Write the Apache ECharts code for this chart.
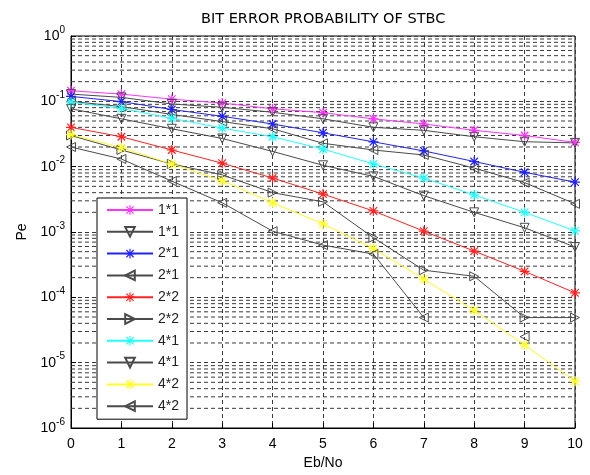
<!DOCTYPE html>
<html>
<head>
<meta charset="utf-8">
<script src="https://cdn.jsdelivr.net/npm/echarts@6/dist/echarts.min.js"></script>
<style>
  html, body { margin: 0; padding: 0; background: #fff; }
  #chart { width: 590px; height: 475px; }
</style>
</head>
<body>
<div id="chart"></div>
<script>
/* ================= DATA ================= */
const ebNo = [0, 1, 2, 3, 4, 5, 6, 7, 8, 9, 10];

// star markers (coloured) and hollow triangles (black), as in the legend
const pe11Star = [0.145, 0.129, 0.108, 0.094, 0.077, 0.067, 0.054, 0.045, 0.036, 0.030, 0.0235];
const pe11Tri  = [0.129, 0.115, 0.091, 0.081, 0.068, 0.054, 0.040, 0.036, 0.0287, 0.0241, 0.0231];
const pe21Star = [0.119, 0.099, 0.075, 0.059, 0.045, 0.033, 0.024, 0.0174, 0.012, 0.0082, 0.0058];
const pe21Tri  = [0.100, 0.083, 0.063, 0.049, 0.038, 0.0228, 0.018, 0.0151, 0.0095, 0.0057, 0.0027];
const pe22Star = [0.040, 0.0287, 0.018, 0.0113, 0.0067, 0.0038, 0.0021, 0.00103, 0.00051, 0.00025, 0.000117];
const pe22Tri  = [0.030, 0.018, 0.011, 0.0075, 0.0040, 0.0029, 0.00082, 0.00026, 0.00021, 0.000049, 0.000049];
const pe41Star = [0.097, 0.078, 0.055, 0.039, 0.0287, 0.0186, 0.011, 0.0067, 0.0037, 0.0020, 0.00104];
const pe41Tri  = [0.077, 0.054, 0.038, 0.027, 0.0171, 0.0105, 0.0071, 0.0036, 0.0020, 0.00116, 0.00059];
const pe42Star = [0.031, 0.0195, 0.011, 0.0061, 0.0028, 0.00133, 0.00056, 0.00019, 0.000063, 0.0000187, 0.0000052];
const pe42Tri  = [0.020, 0.0131, 0.0060, 0.0028, 0.00103, 0.00063, 0.00046, 0.000049, null, 0.000025, null];

const legendNames = ["1*1", "1*1", "2*1", "2*1", "2*2", "2*2", "4*1", "4*1", "4*2", "4*2"];

// log grid: decades plus 2..9 sub-lines
const decades = [-6, -5, -4, -3, -2, -1];
const minorSteps = [2, 3, 4, 5, 6, 7, 8, 9];

/* ================= SYMBOLS ================= */
const STAR = "path://M0,8.8H20V11.2H0Z M8.8,0H11.2V20H8.8Z " +
  "M1.6,3.3L3.3,1.6L18.4,16.7L16.7,18.4Z M16.7,1.6L18.4,3.3L3.3,18.4L1.6,16.7Z";
const TRI_DOWN = "path://M0,0L10,0L5,9Z";
const TRI_LEFT = "path://M9,0L9,10L0,5Z";
const TRI_RIGHT = "path://M0,0L0,10L9,5Z";

const GRID_COLOR = "#3a3a3a";
const FONT = "Liberation Sans, Arial, sans-serif";

const toPoints = (arr) => ebNo.map((x, i) => [x, arr[i] == null ? "-" : arr[i]]);

function starSeries(idx, values, color) {
  return {
    name: legendNames[idx] + "|" + idx,
    type: "line",
    data: toPoints(values),
    symbol: STAR,
    symbolSize: 10,
    showAllSymbol: true,
    connectNulls: false,
    lineStyle: { color, width: 1 },
    itemStyle: { color, borderWidth: 0 },
    emphasis: { disabled: true },
    animation: false,
    z: 3,
  };
}

function triSeries(idx, values, symbol) {
  return {
    name: legendNames[idx] + "|" + idx,
    type: "line",
    data: toPoints(values),
    symbol,
    symbolSize: 9,
    showAllSymbol: true,
    connectNulls: false,
    lineStyle: { color: "#4a4a4a", width: 1 },
    itemStyle: { color: "rgba(0,0,0,0)", borderColor: "#4a4a4a", borderWidth: 1 },
    emphasis: { disabled: true },
    animation: false,
    z: 3,
  };
}

// minor log grid lines, drawn as broken line segments across the x range
const minorGrid = [];
decades.forEach((d) => {
  minorSteps.forEach((m) => {
    const v = m * Math.pow(10, d);
    minorGrid.push([ebNo[0], v], [ebNo[ebNo.length - 1], v], [ebNo[0], "-"]);
  });
});

const series = [
  starSeries(0, pe11Star, "#ff33ff"),
  triSeries(1, pe11Tri, TRI_DOWN),
  starSeries(2, pe21Star, "#2222ff"),
  triSeries(3, pe21Tri, TRI_LEFT),
  starSeries(4, pe22Star, "#ff2222"),
  triSeries(5, pe22Tri, TRI_RIGHT),
  starSeries(6, pe41Star, "#22ffff"),
  triSeries(7, pe41Tri, TRI_DOWN),
  starSeries(8, pe42Star, "#ffff22"),
  triSeries(9, pe42Tri, TRI_LEFT),
  {
    name: "_grid",
    type: "line",
    data: minorGrid,
    silent: true,
    symbol: "none",
    connectNulls: false,
    z: 1,
    animation: false,
    lineStyle: { color: GRID_COLOR, type: [4, 3], width: 1 },
    emphasis: { disabled: true },
  },
];

/* ================= CHART ================= */
const chart = echarts.init(document.getElementById("chart"), null, { renderer: "canvas" });

chart.setOption({
  backgroundColor: "#fff",
  animation: false,
  textStyle: { fontFamily: FONT, color: "#000" },
  title: {
    text: "BIT ERROR PROBABILITY OF STBC",
    left: 196,
    top: 7,
    textStyle: { fontFamily: "DejaVu Sans", fontSize: 14.5, fontWeight: "normal", color: "#000" },
  },
  grid: {
    left: 71,
    right: 15,
    top: 36,
    bottom: 41,
    show: true,
    borderColor: "#000",
    borderWidth: 1,
    backgroundColor: "#fff",
  },
  legend: {
    orient: "vertical",
    left: 97,
    top: 198,
    data: series.slice(0, 10).map((s) => s.name),
    formatter: (name) => name.split("|")[0],
    itemWidth: 46,
    itemHeight: 12,
    itemGap: 7.8,
    padding: [5, 8, 6, 9],
    backgroundColor: "#fff",
    borderColor: "#000",
    borderWidth: 1,
    borderRadius: 0,
    selectedMode: false,
    textStyle: { fontFamily: FONT, fontSize: 14, color: "#222" },
  },
  xAxis: {
    type: "value",
    min: 0,
    max: 10,
    interval: 1,
    name: "Eb/No",
    nameLocation: "middle",
    nameGap: 28,
    nameTextStyle: { fontFamily: FONT, fontSize: 14, color: "#000" },
    axisLine: { lineStyle: { color: "#000" } },
    axisTick: { inside: true, length: 5, lineStyle: { color: "#000" } },
    axisLabel: { fontFamily: FONT, fontSize: 14, color: "#000", margin: 9 },
    splitLine: { show: true, lineStyle: { color: GRID_COLOR, type: [4, 3], width: 1 } },
  },
  yAxis: {
    type: "log",
    logBase: 10,
    min: 1e-6,
    max: 1,
    name: "Pe",
    nameLocation: "middle",
    nameGap: 42,
    nameTextStyle: { fontFamily: FONT, fontSize: 14, color: "#000" },
    axisLine: { show: true, lineStyle: { color: "#000" } },
    axisTick: { inside: true, length: 5, lineStyle: { color: "#000" } },
    axisLabel: {
      margin: 6,
      formatter: (v) => "{b|10}{e|" + Math.round(Math.log10(v)) + "}",
      rich: {
        b: { fontFamily: FONT, fontSize: 14, color: "#000" },
        e: { fontFamily: FONT, fontSize: 10, color: "#000", padding: [0, 0, 12, 0] },
      },
    },
    splitLine: { show: true, lineStyle: { color: GRID_COLOR, type: [4, 3], width: 1 } },
  },
  series,
});
</script>
</body>
</html>
